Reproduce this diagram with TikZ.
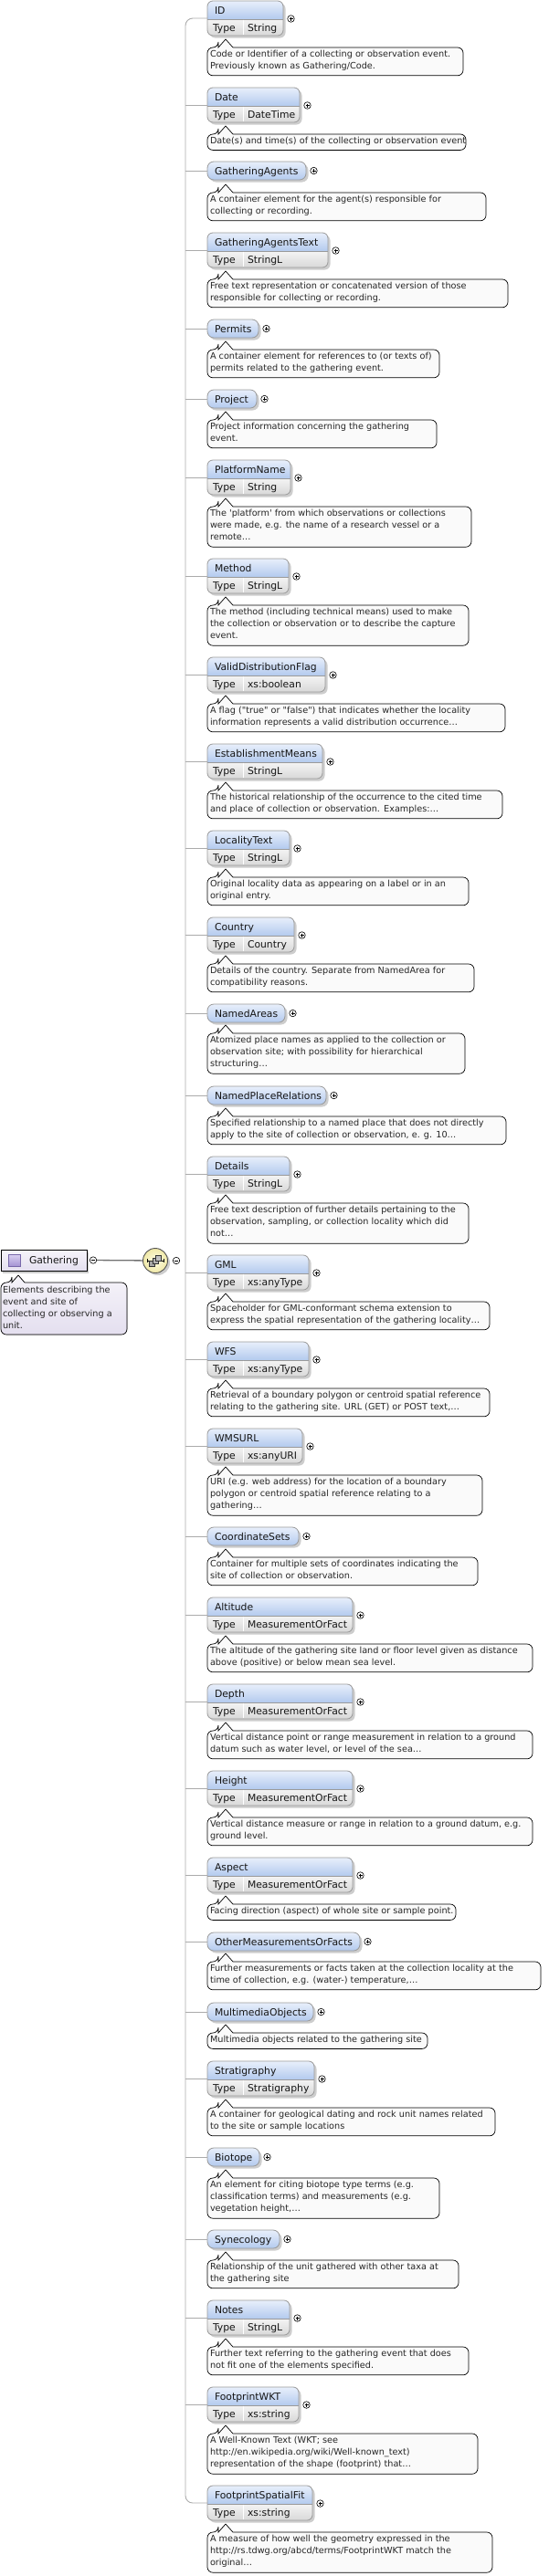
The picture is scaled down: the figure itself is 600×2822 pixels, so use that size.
\documentclass[tikz,border=0pt]{standalone}
\usepackage{fontspec}
\newfontfamily\dv{DejaVu Sans}
\definecolor{hdA}{HTML}{E8EFFB}
\definecolor{hdB}{HTML}{B3CAEE}
\definecolor{tyA}{HTML}{F4F4F4}
\definecolor{tyB}{HTML}{D8D8D8}
\definecolor{elbd}{HTML}{9A9A9A}
\definecolor{shd}{HTML}{CDCDCD}
\definecolor{cn}{HTML}{ABABAB}
\definecolor{dfill}{HTML}{FAFAFA}
\definecolor{txt}{HTML}{161616}
\definecolor{dtxt}{HTML}{262626}
\definecolor{gA}{HTML}{F6F4FA}
\definecolor{gB}{HTML}{E4DFEF}
\definecolor{icA}{HTML}{DCD2F2}
\definecolor{icB}{HTML}{A493D3}
\definecolor{icbd}{HTML}{7868AA}
\definecolor{seqA}{HTML}{FFFDE6}
\definecolor{seqB}{HTML}{EFE8A6}
\definecolor{seqbd}{HTML}{555555}
\definecolor{lnk}{HTML}{707070}

\newcommand\elT[5]{%
 \node[elnode, minimum width={(#3-227)*1pt}, minimum height=38pt] (#1) at (227,#2) {};
 \coordinate (#1t) at (203,#2+19);
 \fill[shadowc, rounded corners=6pt] (229.5,#2+2.5) rectangle (#3+2.5,#2+40.5);
 \begin{scope}
  \clip[rounded corners=6pt] (227,#2) rectangle (#3,#2+38);
  \shade[top color=hdA, bottom color=hdB] (227,#2) rectangle (#3,#2+20);
  \shade[top color=tyA, bottom color=tyB] (227,#2+20) rectangle (#3,#2+38);
 \end{scope}
 \draw[elborder] (227,#2+20) -- (#3,#2+20);
 \draw[white, line width=0.9pt] (266,#2+20.6) -- (266,#2+37.4);
 \draw[elborder, rounded corners=6pt] (227,#2) rectangle (#3,#2+38);
 \node[hdtext, anchor=base west] (#1n) at (235,#2+14.5) {#4};
 \node[hdtext, anchor=base west] (#1k) at (233,#2+33) {Type};
 \node[hdtext, anchor=base west] (#1v) at (271,#2+33) {#5};
 \node[plusc] (#1p) at (#3+8.5,#2+19.5) {};
 \draw[line width=0.6pt] (#1p.center) +(-2,0) -- +(2,0) +(0,-2) -- +(0,2);
}
\newcommand\elP[4]{%
 \node[elnode, minimum width={(#3-227)*1pt}, minimum height=20pt] (#1) at (227,#2) {};
 \coordinate (#1t) at (203,#2+10);
 \fill[shadowc, rounded corners=7pt] (229.5,#2+2.5) rectangle (#3+2.5,#2+22.5);
 \shade[top color=hdA, bottom color=hdB, rounded corners=7pt] (227,#2) rectangle (#3,#2+20);
 \draw[elborder, rounded corners=7pt] (227,#2) rectangle (#3,#2+20);
 \node[hdtext, anchor=base west] (#1n) at (235,#2+14) {#4};
 \node[plusc] (#1p) at (#3+8.5,#2+10) {};
 \draw[line width=0.6pt] (#1p.center) +(-2,0) -- +(2,0) +(0,-2) -- +(0,2);
}
\newcommand\docb[5]{%
 \filldraw[docbox] (239,#2) -- (247,#2-9) -- (255,#2) {[rounded corners=6pt] -- (#4,#2) -- (#4,#2+4+13.4*#3) -- (227,#2+4+13.4*#3) -- (227,#2) -- (239,#2)} -- cycle;
 \foreach \dl [count=\i] in {#5} {
  \node[doctext, anchor=base west] (#1l\i) at (230,#2+10+13.3*\i-13.3) {\dl};
 }
}

\begin{document}
\begin{tikzpicture}[x=1pt,y=-1pt,
  elnode/.style={inner sep=0,outer sep=0,anchor=north west,draw=none},
  hdtext/.style={inner sep=0,outer sep=0,font=\dv\fontsize{10.8}{13}\selectfont,text=txt},
  doctext/.style={inner sep=0,outer sep=0,font=\dv\fontsize{9.7}{13}\selectfont,text=dtxt},
  conn/.style={draw=cn,line width=0.9pt},
  elborder/.style={draw=elbd,line width=0.8pt},
  shadowc/.style={fill=shd},
  plusc/.style={circle,draw=black,fill=white,minimum size=7.5pt,inner sep=0,line width=0.6pt},
  docbox/.style={draw=black,fill=dfill,line width=0.7pt}]
\useasboundingbox (0,0) rectangle (600,2822);

% ---------- root element ----------
\fill[shd] (3,1372) rectangle (97,1395);
\node[draw=black, line width=0.9pt, inner sep=0, minimum width=94pt, minimum height=23pt, anchor=north west, top color=gA, bottom color=gB] (gath) at (0.5,1369) {};
\node[draw=icbd, line width=0.6pt, top color=icA, bottom color=icB, minimum size=13pt, inner sep=0] (gicon) at (15.5,1380.5) {};
\node[hdtext, anchor=base west] (gtext) at (32,1384.5) {Gathering};
\node[plusc] (gmin) at (102,1380.5) {};
\draw[line width=0.6pt] (gmin.center) +(-2,0) -- +(2,0);

\fill[shd] (172.5,1383.5) circle (13.5);
\node[circle, draw=seqbd, line width=0.9pt, inner color=seqA, outer color=seqB, minimum size=27pt, inner sep=0] (seq) at (170,1381) {};
\draw[lnk, line width=1.3pt] (gmin) -- (seq);
\draw[line width=0.6pt] (seq.center) +(-9,0) -- +(9,0) +(-9,-2) -- +(-9,2) +(9,-2) -- +(9,2);
\filldraw[fill=gray!70, draw=black!80, line width=0.5pt] (163.5,1381) rectangle (169.5,1387);
\filldraw[fill=gray!60, draw=black!80, line width=0.5pt] (167,1378) rectangle (173,1384);
\filldraw[fill=gray!50, draw=black!80, line width=0.5pt] (170.5,1375) rectangle (176.5,1381);
\node[plusc] (smin) at (193,1381) {};
\draw[line width=0.6pt] (smin.center) +(-2,0) -- +(2,0);

\filldraw[draw=black, line width=0.7pt, top color=gA, bottom color=gB] (13,1405) -- (20,1397) -- (27,1405) {[rounded corners=6pt] -- (139,1405) -- (139,1462) -- (1,1462) -- (1,1405) -- (13,1405)} -- cycle;
\node[doctext, anchor=base west] (gd1) at (3,1416) {Elements describing the};
\node[doctext, anchor=base west] (gd2) at (3,1429) {event and site of};
\node[doctext, anchor=base west] (gd3) at (3,1442) {collecting or observing a};
\node[doctext, anchor=base west] (gd4) at (3,1455) {unit.};

% ---------- children ----------
\elT{nID}{1}{310}{ID}{String}
\docb{dID}{52}{2}{507}{{Code or Identifier of a collecting or observation event.},{Previously known as Gathering/Code.}}
\elT{nDate}{96}{328}{Date}{DateTime}
\docb{dDate}{147}{1}{510}{{Date(s) and time(s) of the collecting or observation event}}
\elP{nGA}{177}{335}{GatheringAgents}
\docb{dGA}{211}{2}{532}{{A container element for the agent(s) responsible for},{collecting or recording.}}
\elT{nGAT}{255}{359}{GatheringAgentsText}{StringL}
\docb{dGAT}{306}{2}{556}{{Free text representation or concatenated version of those},{responsible for collecting or recording.}}
\elP{nPer}{350}{283}{Permits}
\docb{dPer}{383}{2}{481}{{A container element for references to (or texts of)},{permits related to the gathering event.}}
\elP{nProj}{427}{281}{Project}
\docb{dProj}{460}{2}{478}{{Project information concerning the gathering},{event.}}
\elT{nPlat}{504}{318}{PlatformName}{String}
\docb{dPlat}{555}{3}{516}{{The \textquotesingle platform\textquotesingle\ from which observations or collections},{were made, e.g. the name of a research vessel or a},{remote\ldots}}
\elT{nMeth}{612}{316}{Method}{StringL}
\docb{dMeth}{663}{3}{513}{{The method (including technical means) used to make},{the collection or observation or to describe the capture},{event.}}
\elT{nVDF}{720}{356}{ValidDistributionFlag}{xs:boolean}
\docb{dVDF}{771}{2}{553}{{A flag (\textquotedbl true\textquotedbl\ or \textquotedbl false\textquotedbl) that indicates whether the locality},{information represents a valid distribution occurrence\ldots}}
\elT{nEM}{815}{353}{EstablishmentMeans}{StringL}
\docb{dEM}{866}{2}{550}{{The historical relationship of the occurrence to the cited time},{and place of collection or observation. Examples:\ldots}}
\elT{nLoc}{910}{317}{LocalityText}{StringL}
\docb{dLoc}{961}{2}{513}{{Original locality data as appearing on a label or in an},{original entry.}}
\elT{nCtry}{1005}{322}{Country}{Country}
\docb{dCtry}{1056}{2}{519}{{Details of the country. Separate from NamedArea for},{compatibility reasons.}}
\elP{nNA}{1100}{312}{NamedAreas}
\docb{dNA}{1132}{3}{509}{{Atomized place names as applied to the collection or},{observation site; with possibility for hierarchical},{structuring\ldots}}
\elP{nNPR}{1190}{357}{NamedPlaceRelations}
\docb{dNPR}{1223}{2}{554}{{Specified relationship to a named place that does not directly},{apply to the site of collection or observation, e. g. 10\ldots}}
\elT{nDet}{1267}{317}{Details}{StringL}
\docb{dDet}{1318}{3}{513}{{Free text description of further details pertaining to the},{observation, sampling, or collection locality which did},{not\ldots}}
\elT{nGML}{1375}{338}{GML}{xs:anyType}
\docb{dGML}{1426}{2}{536}{{Spaceholder for GML-conformant schema extension to},{express the spatial representation of the gathering locality\ldots}}
\elT{nWFS}{1470}{338}{WFS}{xs:anyType}
\docb{dWFS}{1521}{2}{536}{{Retrieval of a boundary polygon or centroid spatial reference},{relating to the gathering site. URL (GET) or POST text,\ldots}}
\elT{nWMS}{1565}{331}{WMSURL}{xs:anyURI}
\docb{dWMS}{1616}{3}{528}{{URI (e.g. web address) for the location of a boundary},{polygon or centroid spatial reference relating to a},{gathering\ldots}}
\elP{nCS}{1673}{327}{CoordinateSets}
\docb{dCS}{1706}{2}{523}{{Container for multiple sets of coordinates indicating the},{site of collection or observation.}}
\elT{nAlt}{1750}{386}{Altitude}{MeasurementOrFact}
\docb{dAlt}{1801}{2}{583}{{The altitude of the gathering site land or floor level given as distance},{above (positive) or below mean sea level.}}
\elT{nDep}{1845}{386}{Depth}{MeasurementOrFact}
\docb{dDep}{1896}{2}{583}{{Vertical distance point or range measurement in relation to a ground},{datum such as water level, or level of the sea\ldots}}
\elT{nHgt}{1940}{386}{Height}{MeasurementOrFact}
\docb{dHgt}{1991}{2}{583}{{Vertical distance measure or range in relation to a ground datum, e.g.},{ground level.}}
\elT{nAsp}{2035}{386}{Aspect}{MeasurementOrFact}
\docb{dAsp}{2086}{1}{499}{{Facing direction (aspect) of whole site or sample point.}}
\elP{nOMF}{2117}{394}{OtherMeasurementsOrFacts}
\docb{dOMF}{2149}{2}{592}{{Further measurements or facts taken at the collection locality at the},{time of collection, e.g. (water-) temperature,\ldots}}
\elP{nMM}{2194}{343}{MultimediaObjects}
\docb{dMM}{2227}{1}{468}{{Multimedia objects related to the gathering site}}
\elT{nStr}{2258}{344}{Stratigraphy}{Stratigraphy}
\docb{dStr}{2309}{2}{542}{{A container for geological dating and rock unit names related},{to the site or sample locations}}
\elP{nBio}{2353}{284}{Biotope}
\docb{dBio}{2386}{3}{481}{{An element for citing biotope type terms (e.g.},{classification terms) and measurements (e.g.},{vegetation height,\ldots}}
\elP{nSyn}{2443}{306}{Synecology}
\docb{dSyn}{2476}{2}{502}{{Relationship of the unit gathered with other taxa at},{the gathering site}}
\elT{nNot}{2520}{317}{Notes}{StringL}
\docb{dNot}{2571}{2}{513}{{Further text referring to the gathering event that does},{not fit one of the elements specified.}}
\elT{nWKT}{2615}{327}{FootprintWKT}{xs:string}
\docb{dWKT}{2666}{3}{523}{{A Well-Known Text (WKT; see},{http://en.wikipedia.org/wiki/Well-known\_text)},{representation of the shape (footprint) that\ldots}}
\elT{nFSF}{2723}{342}{FootprintSpatialFit}{xs:string}
\docb{dFSF}{2774}{3}{539}{{A measure of how well the geometry expressed in the},{http://rs.tdwg.org/abcd/terms/FootprintWKT match the},{original\ldots}}

% ---------- connectors ----------
\draw[conn, rounded corners=8pt] (nID.west) -- (nIDt) -- (nFSFt) -- (nFSF.west);
\foreach \e in {nDate,nGA,nGAT,nPer,nProj,nPlat,nMeth,nVDF,nEM,nLoc,nCtry,nNA,nNPR,nDet,nGML,nWFS,nWMS,nCS,nAlt,nDep,nHgt,nAsp,nOMF,nMM,nStr,nBio,nSyn,nNot,nWKT}
  \draw[conn] (\e t) -- (\e.west);
\end{tikzpicture}
\end{document}
